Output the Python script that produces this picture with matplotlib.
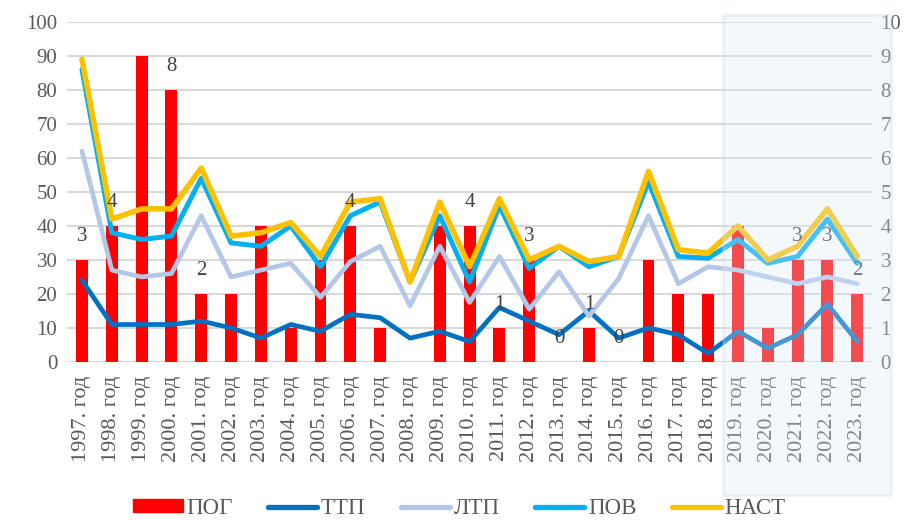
import matplotlib
matplotlib.use("Agg")
import matplotlib.pyplot as plt
from matplotlib.patches import Patch, Rectangle
from matplotlib.lines import Line2D
from matplotlib.transforms import blended_transform_factory

plt.rcParams['font.family'] = ['Liberation Serif', 'DejaVu Serif']

years = list(range(1997, 2024))
labels = ["{}. год".format(y) for y in years]

# ПОГ on the right axis (0-10)
pog = [3, 4, 9, 8, 2, 2, 4, 1, 3, 4, 1, 0, 4, 4, 1, 3, 0, 1, 0, 3, 2, 2, 4, 1, 3, 3, 2]
# years whose ПОГ value label is visible
pog_label_years = [1997, 1998, 2000, 2001, 2006, 2010, 2011, 2012, 2013, 2014, 2015, 2021, 2022, 2023]

# lines on the left axis (0-100)
ttp = [24, 11, 11, 11, 12, 10, 7, 11, 9, 14, 13, 7, 9, 6, 16, 12, 8, 15, 7, 10, 8, 2.5, 9, 4, 8, 17, 6]
ltp = [62, 27, 25, 26, 43, 25, 27, 29, 19, 29.5, 34, 16.5, 34, 17.5, 31, 15.5, 26.5, 13.5, 24.5, 43, 23, 28, 27, 25, 23, 25, 23]
pov = [86, 38, 36, 37, 54, 35, 34, 40, 28, 43, 47, 23.5, 43, 23.5, 46, 27.5, 34, 28, 31, 53, 31, 30.5, 36, 29, 31, 42, 29]
nast = [89, 42, 45, 45, 57, 37, 38, 41, 31, 47, 48, 23.5, 47, 28, 48, 30, 34, 29.5, 31, 56, 33, 32, 40, 30, 34, 45, 31]

highlight_from = 2019

x = list(range(len(years)))
grey = '#595959'

fig = plt.figure(figsize=(9.19, 5.2), dpi=100)
ax2 = fig.add_axes([0.073, 0.304, 0.876, 0.654])  # bars, right scale
ax = ax2.twinx()                                   # lines, left scale
ax.yaxis.tick_left()
ax2.yaxis.tick_right()

ax2.bar(x, pog, width=0.4, color='#FF0000', zorder=2)
ax2.set_ylim(0, 10)
ax2.set_yticks(range(0, 11))
ax2.yaxis.grid(True, color='#D9D9D9', linewidth=1.5)
ax2.set_axisbelow(True)

ax.plot(x, ttp, color='#0070C0', lw=3.4, solid_capstyle='round', solid_joinstyle='round')
ax.plot(x, ltp, color='#B4C7E7', lw=3.4, solid_capstyle='round', solid_joinstyle='round')
ax.plot(x, pov, color='#00B0F0', lw=3.6, solid_capstyle='round', solid_joinstyle='round')
ax.plot(x, nast, color='#FFC000', lw=4.0, solid_capstyle='round', solid_joinstyle='round')
ax.set_ylim(0, 100)
ax.set_yticks(range(0, 101, 10))

for i, y in enumerate(years):
    if y in pog_label_years:
        ax.text(i, pog[i] * 10 + 7, str(pog[i]), ha='center', va='center',
                fontsize=15, color='#404040', zorder=5)

ax.set_xlim(-0.5, len(years) - 0.5)
ax2.set_xticks(x)
ax2.set_xticklabels(labels, rotation=90, color=grey)

for a in (ax, ax2):
    for s in a.spines.values():
        s.set_visible(False)
    a.tick_params(length=0, labelsize=15, labelcolor=grey)
ax2.tick_params(axis='y', pad=6)
ax.tick_params(axis='y', pad=7)
ax2.tick_params(axis='x', pad=10, labelsize=16)

# highlighted forecast block
k = years.index(highlight_from)
tr = blended_transform_factory(ax2.transData, fig.transFigure)
rect = Rectangle((k - 0.5, 0.048), len(years) - k + 0.64, 0.923, transform=tr,
                 facecolor='#DCEBF7', edgecolor='#C9DAEE', alpha=0.32, lw=2,
                 clip_on=False, zorder=10)
fig.add_artist(rect)

handles = [Patch(color='#FF0000'),
           Line2D([], [], color='#0070C0', lw=3.8, solid_capstyle='round'),
           Line2D([], [], color='#B4C7E7', lw=3.8, solid_capstyle='round'),
           Line2D([], [], color='#00B0F0', lw=3.8, solid_capstyle='round'),
           Line2D([], [], color='#FFC000', lw=3.8, solid_capstyle='round')]
fig.legend(handles, ['ПОГ', 'ТТП', 'ЛТП', 'ПОВ', 'НАСТ'], loc='center',
           bbox_to_anchor=(0.5, 0.022), ncol=5, frameon=False, fontsize=16.5,
           handlelength=2.15, handleheight=0.5, columnspacing=1.55, handletextpad=0.15,
           labelcolor=grey)

fig.savefig('out.png', dpi=100)
